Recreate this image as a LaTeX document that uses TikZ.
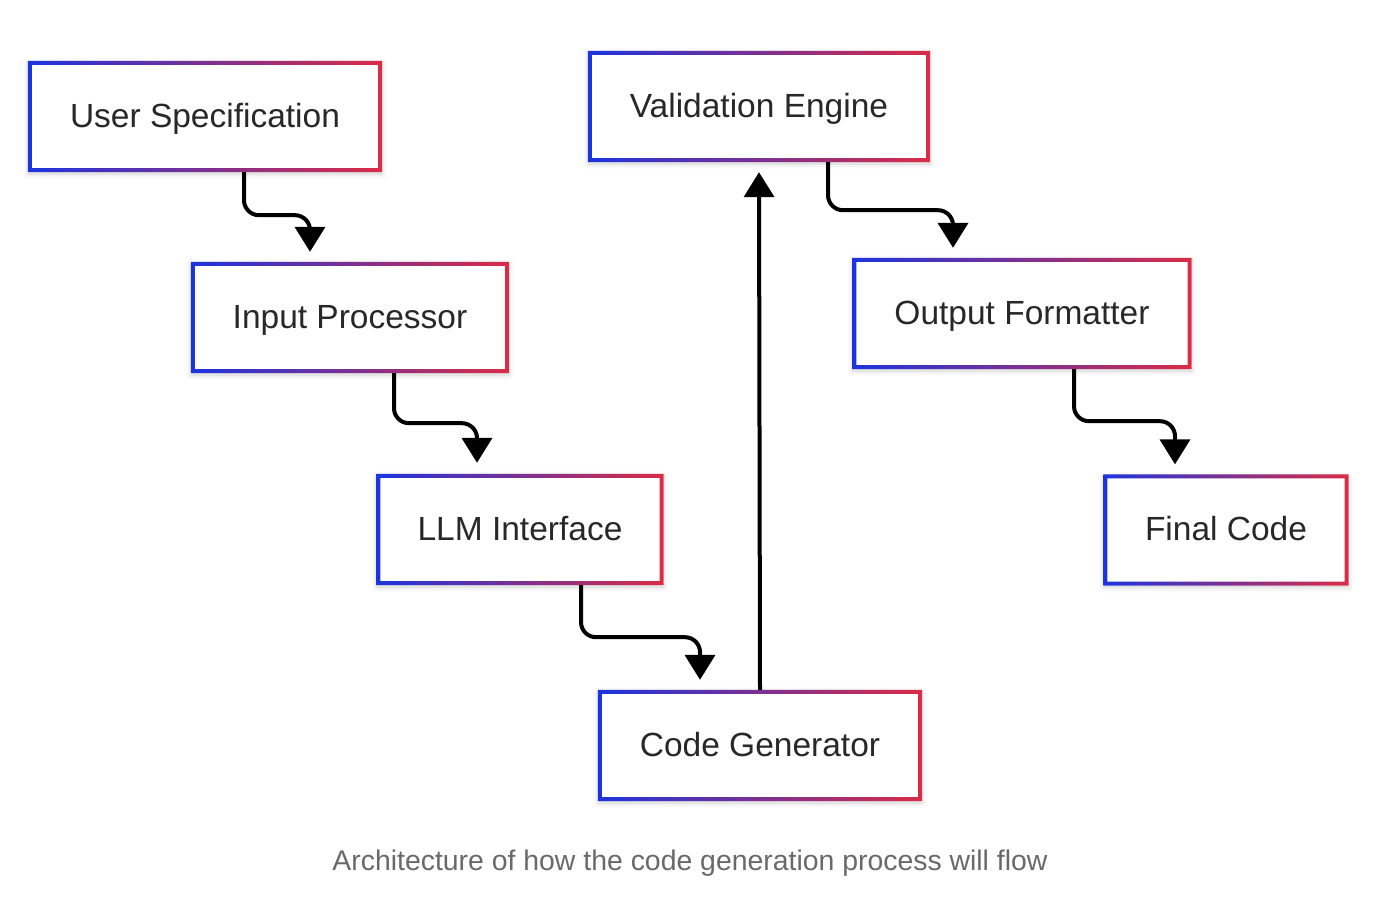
\documentclass[tikz,border=0pt]{standalone}
\usepackage{fontspec}
\setmainfont{Liberation Sans}
\usetikzlibrary{arrows.meta,shadows.blur}
\definecolor{edgeblue}{RGB}{28,52,222}
\definecolor{edgered}{RGB}{218,44,70}
\definecolor{boxtext}{RGB}{40,40,40}
\definecolor{captext}{RGB}{105,105,105}
\tikzset{
  box/.style={fill=white, text=boxtext, minimum height=111pt,
    text height=24pt, text depth=3pt,
    font=\fontsize{33.5}{40}\selectfont,
    blur shadow={shadow xshift=0pt, shadow yshift=-2pt, shadow blur radius=5pt, shadow opacity=18}},
  flow/.style={line width=4pt, rounded corners=15pt, -{Triangle[width=30pt,length=25pt]}}
}
\begin{document}
\begin{tikzpicture}[x=1pt,y=-1pt]
\useasboundingbox (0,0) rectangle (1384,902);
\node[box, minimum width=354pt] (spec) at (205,116.5) {User Specification};
\node[box, minimum width=318pt] (input) at (350,317.5) {Input Processor};
\node[box, minimum width=287pt] (llm) at (520,529.5) {LLM Interface};
\node[box, minimum width=324pt] (gen) at (760,745.5) {Code Generator};
\node[box, minimum width=342pt] (valid) at (759,106.5) {Validation Engine};
\node[box, minimum width=339pt] (output) at (1022,313.5) {Output Formatter};
\node[box, minimum width=245pt] (final) at (1226,530) {Final Code};
% gradient borders
\foreach \n in {spec,input,llm,gen,valid,output,final}
  \shade[even odd rule, left color=edgeblue, right color=edgered]
    (\n.south west) rectangle (\n.north east)
    ([shift={(4pt,4pt)}]\n.south west) rectangle ([shift={(-4pt,-4pt)}]\n.north east);
\draw[flow] ([xshift=39pt]spec.south) -- ++(0,43) -| ([xshift=-40pt,yshift=10pt]input.north);
\draw[flow] ([xshift=44pt]input.south) -- ++(0,50) -| ([xshift=-43pt,yshift=11pt]llm.north);
\draw[flow] ([xshift=61pt]llm.south) -- ++(0,52) -| ([xshift=-60pt,yshift=10pt]gen.north);
\draw[flow] (gen.north) -- ([yshift=-10pt]valid.south);
\draw[flow] ([xshift=69pt]valid.south) -- ++(0,48) -| ([xshift=-69pt,yshift=10pt]output.north);
\draw[flow] ([xshift=52pt]output.south) -- ++(0,52) -| ([xshift=-51pt,yshift=10pt]final.north);
\node[text=captext, font=\fontsize{28.4}{34}\selectfont] (caption) at (690,863) {Architecture of how the code generation process will flow};
\end{tikzpicture}
\end{document}
